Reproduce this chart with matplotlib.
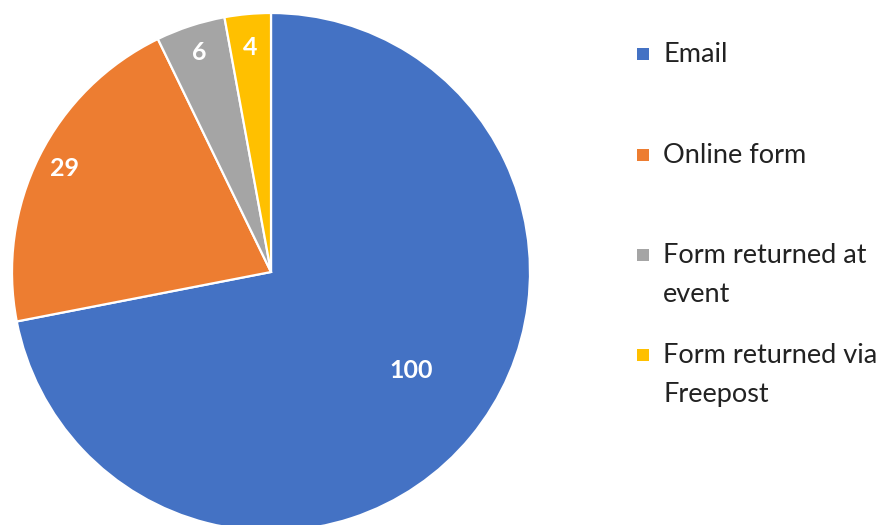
import textwrap
import numpy as np
import matplotlib
matplotlib.use("Agg")
import matplotlib.pyplot as plt
from matplotlib.patches import Rectangle

# data
categories = ["Email", "Online form", "Form returned at event", "Form returned via Freepost"]
counts = [100, 29, 6, 4]
colors = ["#4472C4", "#ED7D31", "#A5A5A5", "#FFC000"]
label_dist = [0.66, 0.89, 0.89, 0.87]
label_turn = [4.5, 0, 0, 0]  # small angle nudge, degrees

plt.rcParams['font.family'] = ['Lato', 'DejaVu Sans']

W, H = 893, 525
fig = plt.figure(figsize=(W / 100, H / 100), dpi=100)

# pie centre (271, 272) px, radius 259 px
cx, cy, r = 271, H - 272, 259
ax = fig.add_axes([(cx - r) / W, (cy - r) / H, 2 * r / W, 2 * r / H])
wedges, _ = ax.pie(counts, colors=colors, startangle=90, counterclock=False,
                   radius=1.0, wedgeprops=dict(edgecolor="white", linewidth=1.6))
ax.set_xlim(-1, 1)
ax.set_ylim(-1, 1)
ax.set_aspect("equal")
ax.axis("off")

for w, v, d, t in zip(wedges, counts, label_dist, label_turn):
    ang = np.deg2rad((w.theta1 + w.theta2) / 2 + t)
    ax.text(d * np.cos(ang), d * np.sin(ang), str(v), color="white",
            fontsize=18, fontweight="bold", ha="center", va="center")

# legend drawn by hand to match the spacing
leg_y = [54, 155, 255, 355]
for cat, col, y in zip(categories, colors, leg_y):
    fig.patches.append(Rectangle((637 / W, (H - y - 6) / H), 12 / W, 12 / H,
                                 transform=fig.transFigure, facecolor=col,
                                 edgecolor="none"))
    fig.text(663 / W, (H - y + 12) / H, textwrap.fill(cat, 17),
             fontsize=19.5, color="#222222", ha="left", va="top",
             linespacing=1.68)

fig.savefig("out.png", dpi=100, facecolor="white")
